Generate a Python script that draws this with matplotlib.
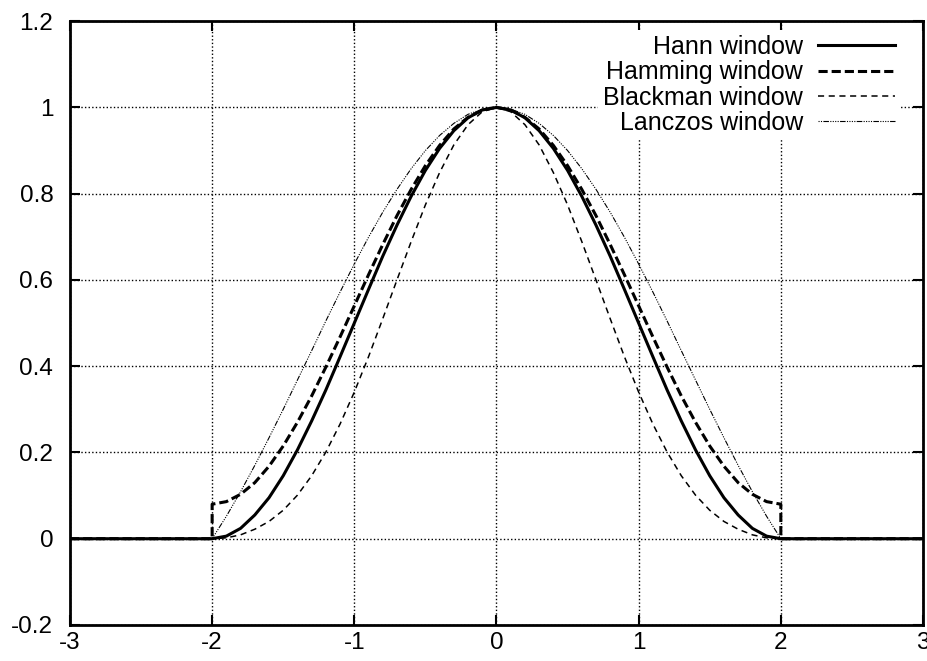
import numpy as np
import matplotlib
matplotlib.use("Agg")
import matplotlib.pyplot as plt

plt.rcParams['font.family'] = ['Liberation Sans', 'DejaVu Sans']

# window values, x from -2 to 2 in steps of 0.1
x_win = [-2.0, -1.9, -1.8, -1.7, -1.6, -1.5, -1.4, -1.3, -1.2, -1.1, -1.0,
         -0.9, -0.8, -0.7, -0.6, -0.5, -0.4, -0.3, -0.2, -0.1, 0.0,
         0.1, 0.2, 0.3, 0.4, 0.5, 0.6, 0.7, 0.8, 0.9, 1.0,
         1.1, 1.2, 1.3, 1.4, 1.5, 1.6, 1.7, 1.8, 1.9, 2.0]

hann = [0.000, 0.006, 0.024, 0.055, 0.095, 0.146, 0.206, 0.273, 0.345, 0.422, 0.500,
        0.578, 0.655, 0.727, 0.794, 0.854, 0.905, 0.946, 0.976, 0.994, 1.000,
        0.994, 0.976, 0.946, 0.905, 0.854, 0.794, 0.727, 0.655, 0.578, 0.500,
        0.422, 0.345, 0.273, 0.206, 0.146, 0.095, 0.055, 0.024, 0.006, 0.000]

hamming = [0.080, 0.086, 0.103, 0.130, 0.168, 0.215, 0.270, 0.331, 0.398, 0.468, 0.540,
           0.612, 0.682, 0.749, 0.810, 0.865, 0.912, 0.950, 0.977, 0.994, 1.000,
           0.994, 0.977, 0.950, 0.912, 0.865, 0.810, 0.749, 0.682, 0.612, 0.540,
           0.468, 0.398, 0.331, 0.270, 0.215, 0.168, 0.130, 0.103, 0.086, 0.080]

blackman = [0.000, 0.002, 0.009, 0.022, 0.040, 0.066, 0.101, 0.146, 0.201, 0.266, 0.340,
            0.422, 0.510, 0.600, 0.689, 0.774, 0.849, 0.913, 0.960, 0.990, 1.000,
            0.990, 0.960, 0.913, 0.849, 0.774, 0.689, 0.600, 0.510, 0.422, 0.340,
            0.266, 0.201, 0.146, 0.101, 0.066, 0.040, 0.022, 0.009, 0.002, 0.000]

lanczos = [0.000, 0.052, 0.109, 0.170, 0.234, 0.300, 0.368, 0.436, 0.505, 0.572, 0.637,
           0.699, 0.757, 0.810, 0.858, 0.900, 0.935, 0.963, 0.984, 0.996, 1.000,
           0.996, 0.984, 0.963, 0.935, 0.900, 0.858, 0.810, 0.757, 0.699, 0.637,
           0.572, 0.505, 0.436, 0.368, 0.300, 0.234, 0.170, 0.109, 0.052, 0.000]

labels = ['Hann window', 'Hamming window', 'Blackman window', 'Lanczos window']

# windows are zero outside [-2, 2]
def padded(vals):
    xs = [-3.0, -2.0] + list(x_win) + [2.0, 3.0]
    ys = [0.0, 0.0] + list(vals) + [0.0, 0.0]
    return xs, ys


fig = plt.figure(figsize=(9.28, 6.61), dpi=100)
ax = fig.add_axes([0.0754, 0.0545, 0.9192, 0.9135])

styles = [
    dict(lw=2.2, ls='-'),
    dict(lw=2.2, ls=(0, (3, 1.3))),
    dict(lw=1.1, ls=(0, (4, 3))),
    dict(lw=0.8, ls=(0, (1, 1.2, 1, 1.2, 5, 1.2, 1, 1.2, 1, 1.2))),
]
series = [hann, hamming, blackman, lanczos]

# draw thin ones first so Hann sits on top
for i in [3, 2, 1, 0]:
    xs, ys = padded(series[i])
    ax.plot(xs, ys, color='black', label=labels[i], zorder=3 + (3 - i), **styles[i])

ax.set_xlim(-3, 3)
ax.set_ylim(-0.2, 1.2)
ax.set_xticks([-3, -2, -1, 0, 1, 2, 3])
ax.set_yticks([-0.2, 0, 0.2, 0.4, 0.6, 0.8, 1, 1.2])
ax.set_yticklabels(['-0.2', '0', '0.2', '0.4', '0.6', '0.8', '1', '1.2'])
ax.set_xticklabels(['-3', '-2', '-1', '0', '1', '2', '3'])

ax.grid(True, color='black', ls=(0, (1, 1.6)), lw=1.0)
ax.set_axisbelow(True)
ax.tick_params(direction='in', length=7, width=1.5, top=True, right=True,
               labelsize=17.5, colors='black')
ax.tick_params(axis='x', pad=5)
ax.tick_params(axis='y', pad=12)
for s in ax.spines.values():
    s.set_linewidth(2)

handles, labs = ax.get_legend_handles_labels()
order = [labs.index(l) for l in labels]
leg = ax.legend([handles[k] for k in order], labels, loc='upper right',
                bbox_to_anchor=(0.988, 1.006), markerfirst=False, fontsize=18,
                frameon=True, framealpha=1, facecolor='white', edgecolor='none',
                fancybox=False, handlelength=3.1, labelspacing=0.05,
                borderpad=0.2, handletextpad=0.6)
for t in leg.get_texts():
    t.set_ha('right')
leg._legend_box.align = 'right'

fig.savefig('out.png', dpi=100, facecolor='white')
